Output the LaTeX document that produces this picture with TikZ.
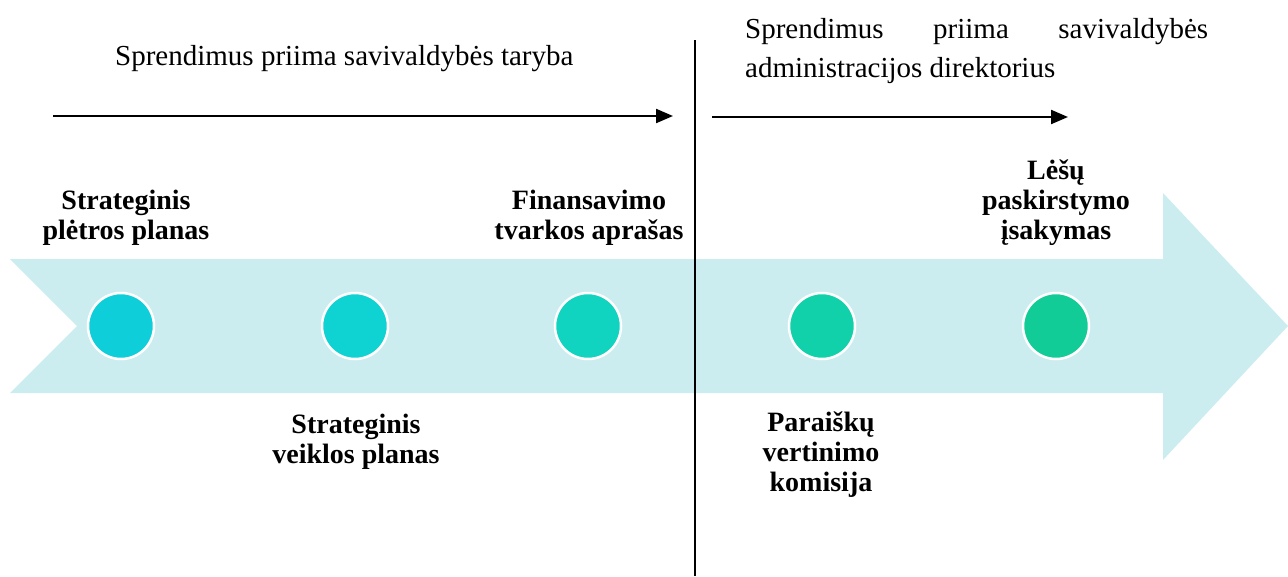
\documentclass[tikz,border=0pt]{standalone}
\usepackage{fontspec}
\setmainfont{Liberation Serif}
\usetikzlibrary{arrows.meta}
\definecolor{band}{HTML}{CCEDF0}
\definecolor{cA}{HTML}{0ECEDA}
\definecolor{cB}{HTML}{0FD3D2}
\definecolor{cC}{HTML}{10D3C0}
\definecolor{cD}{HTML}{11D1AA}
\definecolor{cE}{HTML}{12CC98}
\newcommand{\lbl}[1]{\fontsize{28}{30}\selectfont\bfseries\begin{tabular}[t]{@{}c@{}}#1\end{tabular}}
\tikzset{
  dot/.style={circle, minimum size=66pt, inner sep=0pt, draw=white, line width=2.5pt},
  lab/.style={anchor=base, inner sep=0pt},
  topar/.style={line width=2.2pt, -{Triangle[length=17pt,width=14pt]}},
  divider/.style={line width=1.5pt},
  head/.style={anchor=base west, inner sep=0pt, font=\fontsize{29}{39}\selectfont}
}
\begin{document}
\begin{tikzpicture}[x=1pt,y=-1pt]
\useasboundingbox (0,0) rectangle (1288,576);
% big band arrow
\fill[band] (10,259) -- (1163,259) -- (1163,193) -- (1288,326) -- (1163,460) -- (1163,393) -- (10,393) -- (77,326) -- cycle;
% divider
\coordinate (vt) at (695,40);
\coordinate (vb) at (695,576);
\draw[divider] (vt) -- (vb);
% headings
\node[head] (h1) at (115,65) {Sprendimus priima savivaldybės taryba};
\node[head] (h2) at (745,38) {\parbox[t]{463pt}{\makebox[463pt][s]{Sprendimus\hfill priima\hfill savivaldybės}\\ administracijos direktorius}};
% top arrows
\coordinate (a1s) at (53,116);
\coordinate (a1e) at (673,116);
\coordinate (a2s) at (712,117);
\coordinate (a2e) at (1068,117);
\draw[topar] (a1s) -- (a1e);
\draw[topar] (a2s) -- (a2e);
% circles
\node[dot, fill=cA] (d1) at (121,326) {};
\node[dot, fill=cB] (d2) at (355,326) {};
\node[dot, fill=cC] (d3) at (588,326) {};
\node[dot, fill=cD] (d4) at (822,326) {};
\node[dot, fill=cE] (d5) at (1056,326) {};
% labels
\node[lab] (l1) at (126,209) {\lbl{Strateginis\\plėtros planas}};
\node[lab] (l2) at (356,433) {\lbl{Strateginis\\veiklos planas}};
\node[lab] (l3) at (589,209) {\lbl{Finansavimo\\tvarkos aprašas}};
\node[lab] (l4) at (821,431) {\lbl{Paraiškų\\vertinimo\\komisija}};
\node[lab] (l5) at (1056,179) {\lbl{Lėšų\\paskirstymo\\įsakymas}};
\end{tikzpicture}
\end{document}
